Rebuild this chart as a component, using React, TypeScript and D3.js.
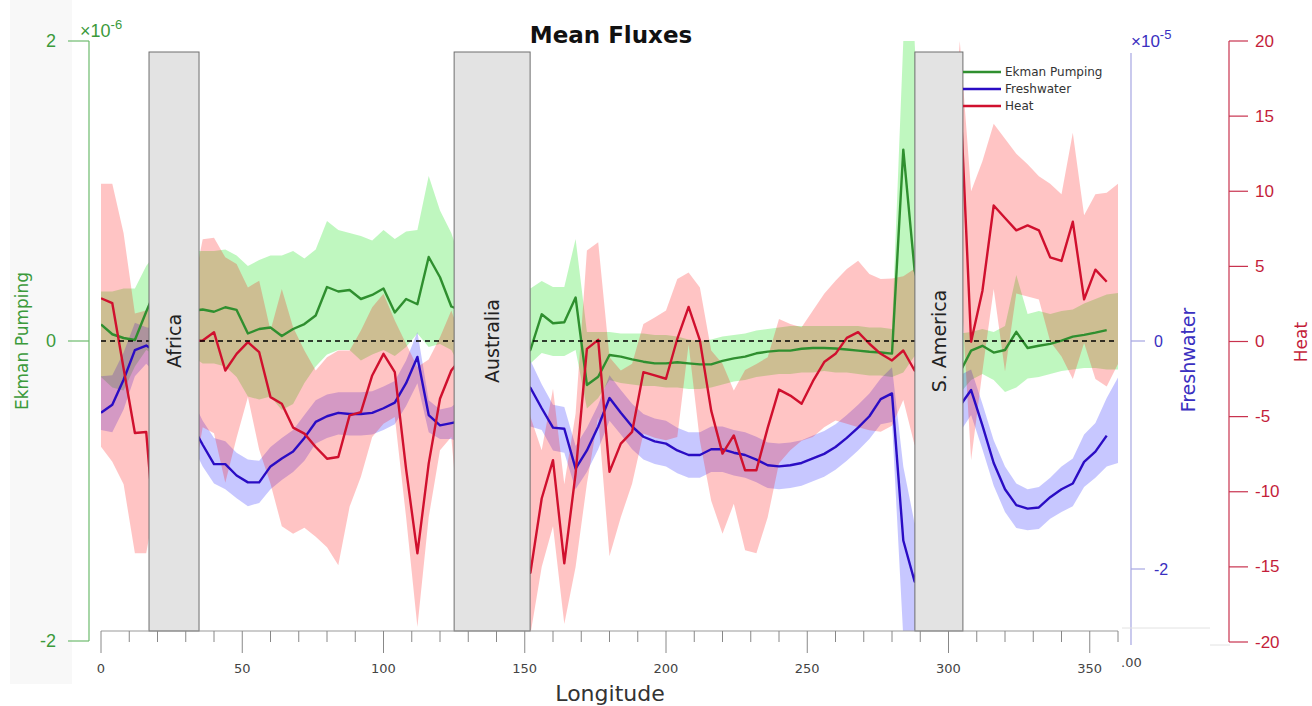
import React from "react";
import * as d3 from "d3";

// Longitude grid (degrees east), 4-degree spacing
const lon: number[] = d3.range(0, 361, 4);

// Ekman pumping (x1e-6), mean and spread
const ekman: (number | null)[] = [
  0.11, 0.045, 0.02, 0.007, 0.195, 0.37, 0.3, 0.25, 0.2, 0.21,
  0.195, 0.225, 0.207, 0.05, 0.08, 0.09, 0.033, 0.08, 0.113, 0.17,
  0.36, 0.33, 0.34, 0.28, 0.307, 0.35, 0.19, 0.28, 0.245, 0.56,
  0.425, 0.23, 0.2, 0.1, 0.05, 0.0, -0.05, -0.08, -0.06, 0.178,
  0.118, 0.125, 0.29, -0.293, -0.238, -0.093, -0.104, -0.122, -0.138, -0.149,
  -0.149, -0.142, -0.149, -0.156, -0.156, -0.133, -0.116, -0.104, -0.082, -0.071,
  -0.064, -0.064, -0.052, -0.047, -0.047, -0.05, -0.057, -0.064, -0.072, -0.077,
  -0.084, 1.276, 0.47, 0.2, 0.0, -0.1, -0.21, -0.064, -0.032, -0.077,
  -0.06, 0.061, -0.047, -0.032, -0.019, 0.003, 0.029, 0.041, 0.056, 0.073,
  null,
];
const ekmanHi: number[] = [
  0.33, 0.33, 0.35, 0.35, 0.5, 0.6, 0.6, 0.6, 0.6, 0.6,
  0.6, 0.61, 0.57, 0.5, 0.54, 0.57, 0.57, 0.6, 0.55, 0.61,
  0.8, 0.74, 0.72, 0.7, 0.67, 0.74, 0.68, 0.73, 0.74, 1.1,
  0.87, 0.72, 0.5, 0.5, 0.5, 0.5, 0.5, 0.5, 0.35, 0.4,
  0.36, 0.36, 0.68, 0.06, 0.06, 0.06, 0.05, 0.05, 0.05, 0.04,
  0.04, 0.03, 0.01, 0.0, 0.01, 0.03, 0.04, 0.05, 0.07, 0.08,
  0.09, 0.1, 0.1, 0.1, 0.1, 0.1, 0.1, 0.1, 0.09, 0.09,
  0.08, 2.0, 2.0, 0.5, 0.5, 0.5, 0.05, 0.06, 0.08, 0.06,
  0.1, 0.44, 0.18, 0.2, 0.18, 0.2, 0.21, 0.25, 0.28, 0.31,
  0.32,
];
const ekmanLo: number[] = [
  -0.24, -0.31, -0.33, -0.17, -0.06, -0.1, -0.1, -0.1, -0.1, -0.15,
  -0.15, -0.17, -0.24, -0.37, -0.39, -0.37, -0.46, -0.42, -0.28, -0.17,
  -0.09, -0.06, -0.06, -0.13, -0.09, -0.06, -0.1, -0.04, 0.05, -0.04,
  -0.02, -0.06, -0.2, -0.2, -0.2, -0.2, -0.2, -0.2, -0.15, -0.08,
  -0.1, -0.1, -0.06, -0.45, -0.38, -0.26, -0.28, -0.29, -0.3, -0.3,
  -0.31, -0.31, -0.32, -0.32, -0.31, -0.29, -0.27, -0.26, -0.24, -0.23,
  -0.22, -0.22, -0.21, -0.21, -0.2, -0.21, -0.21, -0.22, -0.23, -0.23,
  -0.24, -0.21, -0.1, -0.3, -0.3, -0.3, -0.35, -0.26, -0.22, -0.26,
  -0.34, -0.31, -0.25, -0.24, -0.22, -0.2, -0.19, -0.18, -0.18, -0.19,
  -0.19,
];

// Freshwater flux (x1e-5), mean and spread
const fresh: (number | null)[] = [
  -0.63, -0.56, -0.34, -0.08, -0.04, -0.1, -0.3, -0.5, -0.73, -0.91,
  -1.08, -1.08, -1.18, -1.24, -1.24, -1.1, -1.03, -0.97, -0.85, -0.71,
  -0.66, -0.63, -0.64, -0.64, -0.63, -0.59, -0.54, -0.37, -0.14, -0.65,
  -0.74, -0.72, -0.7, -0.65, -0.6, -0.55, -0.5, -0.42, -0.41, -0.59,
  -0.76, -0.77, -1.12, -0.96, -0.75, -0.5, -0.63, -0.75, -0.84, -0.88,
  -0.9, -0.96, -1.0, -1.0, -0.95, -0.95, -0.98, -1.0, -1.04, -1.09,
  -1.1, -1.09, -1.07, -1.03, -0.99, -0.93, -0.85, -0.76, -0.66, -0.51,
  -0.46, -1.75, -2.11, -1.5, -1.0, -0.7, -0.57, -0.43, -0.74, -1.07,
  -1.3, -1.44, -1.47, -1.46, -1.37, -1.3, -1.25, -1.06, -0.97, -0.83,
  null,
];
const freshHi: number[] = [
  -0.31, -0.3, -0.1, 0.16, 0.12, 0.1, -0.1, -0.3, -0.5, -0.7,
  -0.85, -0.88, -0.98, -1.04, -1.05, -0.93, -0.85, -0.78, -0.65, -0.52,
  -0.47, -0.45, -0.45, -0.45, -0.44, -0.4, -0.35, -0.17, 0.08, -0.52,
  -0.6, -0.58, -0.5, -0.45, -0.4, -0.35, -0.3, -0.2, -0.17, -0.38,
  -0.56, -0.58, -0.92, -0.76, -0.56, -0.3, -0.43, -0.55, -0.64, -0.68,
  -0.7, -0.76, -0.8, -0.8, -0.75, -0.75, -0.78, -0.8, -0.84, -0.89,
  -0.9, -0.89, -0.87, -0.83, -0.79, -0.73, -0.65, -0.56, -0.46, -0.33,
  -0.23, -1.1, -1.6, -1.2, -0.8, -0.5, -0.3, -0.25, -0.55, -0.87,
  -1.1, -1.25, -1.3, -1.28, -1.2, -1.1, -1.03, -0.82, -0.72, -0.5,
  -0.32,
];
const freshLo: number[] = [
  -0.78, -0.8, -0.6, -0.31, -0.2, -0.3, -0.5, -0.7, -0.9, -1.1,
  -1.25, -1.3, -1.38, -1.45, -1.42, -1.3, -1.22, -1.15, -1.05, -0.9,
  -0.85, -0.82, -0.83, -0.83, -0.82, -0.78, -0.73, -0.57, -0.37, -0.8,
  -0.86, -0.86, -0.9, -0.85, -0.8, -0.75, -0.7, -0.7, -0.75, -0.78,
  -0.96, -0.98, -1.3, -1.15, -0.95, -0.7, -0.82, -0.95, -1.04, -1.08,
  -1.1, -1.16, -1.2, -1.2, -1.15, -1.15, -1.18, -1.2, -1.24, -1.29,
  -1.3, -1.29, -1.27, -1.23, -1.19, -1.13, -1.05, -0.96, -0.86, -0.73,
  -0.71, -2.6, -2.8, -2.0, -1.3, -1.0, -0.8, -0.65, -0.95, -1.27,
  -1.5, -1.64, -1.66, -1.65, -1.56, -1.5, -1.45, -1.28, -1.2, -1.1,
  -1.07,
];

// Heat flux (W m^-2), mean and spread
const heat: (number | null)[] = [
  2.88, 2.55, -1.8, -6.09, -6.02, -15, -10, -5, 0, 0.07,
  0.62, -1.93, -0.82, -0.04, -0.71, -3.7, -4.14, -5.73, -6.13, -7.02,
  -7.8, -7.69, -4.92, -4.7, -2.26, -0.82, -2.04, -8.5, -14.1, -8.13,
  -3.81, -1.93, -1, -3, -5, -8, -10, -13, -15.4, -10.45,
  -7.9, -14.77, -8.79, -0.49, 0.11, -8.68, -6.8, -6.02, -2.04, -2.26,
  -2.48, 0.18, 2.3, 0.07, -4.6, -7.46, -6.25, -8.57, -8.57, -5.75,
  -3.2, -3.6, -4.14, -2.64, -1.37, -0.82, 0.24, 0.62, -0.15, -0.82,
  -1.26, -0.6, -1.93, 2, 6, 12, 17, -0.01, 3.36, 9.05,
  8.22, 7.4, 7.73, 7.4, 5.6, 5.36, 7.97, 2.8, 4.78, 3.98,
  null,
];
const heatHi: number[] = [
  10.5, 10.5, 7.2, 1.86, 2.06, 3, 3, 3, 3, 6.8,
  6.9, 5.6, 5.16, 3.6, 4.05, 0.73, 3.5, 0.95, -0.6, -1.93,
  -1.04, -0.6, -0.6, 0.73, 2.28, 3.17, 1.4, -0.15, -1.7, -1.2,
  0.29, 2.06, 0, 0, 0, 0, 0, 0, -5, -7.24,
  -3.15, -9.5, -4.8, 6.05, 6.6, -1.04, -1.93, -1.48, 1.17, 1.6,
  2.06, 4.16, 4.6, 3.6, -0.6, -1.48, -3.26, -1.9, -1.5, -1.04,
  1.5, 1.17, 0.95, 2.06, 3.17, 4.05, 4.83, 5.38, 4.5, 4.16,
  4.2, 4.35, 4.85, 10, 10, 10, 20, 10, 12, 14.5,
  13.5, 12.5, 11.8, 11, 10.5, 9.8, 13.9, 8.4, 9.8, 9.9,
  10.5,
];
const heatLo: number[] = [
  -7, -8, -9.5, -14.1, -14.1, -10, -10, -10, -10, -5.7,
  -6.1, -9.4, -6.4, -3.7, -7.2, -9.46, -12.3, -12.8, -12.4, -13,
  -13.7, -14.9, -11, -9, -6.36, -5.47, -5.03, -11.7, -19, -11.7,
  -7.24, -6.36, -15, -15, -15, -15, -15, -15, -19.5, -15,
  -12.3, -18.8, -15, -9.46, -5.03, -14.3, -11.7, -9.46, -6.13, -6.4,
  -6.58, -6.36, -0.2, -6.6, -10.6, -12.8, -10.8, -13.9, -14.1, -11.7,
  -8.1, -7.24, -6.6, -6.36, -5.7, -5.25, -5.47, -5.7, -5.9, -6.0,
  -5.6, -3.9, -6.9, -5, -5, -5, 5, -7.9, -2, 3.5,
  -2, 3.2, 3.0, 2.8, 0, -1, -2.5, -0.1, -2.5, -3,
  -1.5,
];

// Land masses that interrupt the zonal section
const landNames = ["Africa", "Australia", "S. America"];
const landWest = [17, 125, 288.1];
const landEast = [34.7, 151.9, 305.1];

// Tick values
const lonTicks = d3.range(0, 361, 10);
const lonLabels = [0, 50, 100, 150, 200, 250, 300, 350];
const ekmanTicks = [-2, 0, 2];
const freshTicks = [-2, 0];
const heatTicks = [-20, -15, -10, -5, 0, 5, 10, 15, 20];

const legendItems = ["Ekman Pumping", "Freshwater", "Heat"];

const GREEN = "#2f8f2f";
const BLUE = "#2a0cc4";
const RED = "#d0102e";

export default function App() {
  const W = 1312;
  const H = 706;
  const x = d3.scaleLinear().domain([0, 360]).range([101, 1118]);
  const yE = d3.scaleLinear().domain([-2, 2]).range([641, 41]);
  const yF = d3.scaleLinear().domain([-2, 0]).range([569, 341]);
  const yH = d3.scaleLinear().domain([-20, 20]).range([642, 41]);

  const band = (hi: number[], lo: number[], y: d3.ScaleLinear<number, number>) =>
    d3
      .area<number>()
      .x((_, i) => x(lon[i]))
      .y0((_, i) => y(lo[i]))
      .y1((_, i) => y(hi[i]))(lon) || "";

  const line = (vals: (number | null)[], y: d3.ScaleLinear<number, number>) =>
    d3
      .line<number | null>()
      .defined((d) => d !== null)
      .x((_, i) => x(lon[i]))
      .y((d) => y(d as number))(vals) || "";

  const sans = "'DejaVu Sans', sans-serif";
  const lib = "'Liberation Sans', Arial, sans-serif";

  return (
    <svg
      width={W}
      height={H}
      style={{ position: "absolute", left: 0, top: 0, background: "#fff" }}
    >
      <defs>
        <clipPath id="plotClip">
          <rect x={101} y={41} width={1017} height={590} />
        </clipPath>
      </defs>
      <rect x={0} y={0} width={W} height={H} fill="#fff" />
      <rect x={10} y={0} width={62} height={684} fill="#f8f8f8" />

      {/* spread bands and mean lines */}
      <g clipPath="url(#plotClip)">
        <path d={band(ekmanHi, ekmanLo, yE)} fill="rgb(0,225,0)" fillOpacity={0.25} />
        <path d={band(freshHi, freshLo, yF)} fill="rgb(0,0,255)" fillOpacity={0.22} />
        <path d={band(heatHi, heatLo, yH)} fill="rgb(255,0,0)" fillOpacity={0.23} />
        <path d={line(ekman, yE)} fill="none" stroke={GREEN} strokeWidth={2.4} strokeLinejoin="round" />
        <path d={line(fresh, yF)} fill="none" stroke={BLUE} strokeWidth={2.4} strokeLinejoin="round" />
        <path d={line(heat, yH)} fill="none" stroke={RED} strokeWidth={2.4} strokeLinejoin="round" />
      </g>

      {/* zero reference */}
      <line x1={x(0)} x2={x(360)} y1={yE(0)} y2={yE(0)} stroke="#000" strokeWidth={1.3} strokeDasharray="5,4" />

      {/* land masks */}
      {landNames.map((name, i) => {
        const x0 = x(landWest[i]);
        const x1 = x(landEast[i]);
        const cx = (x0 + x1) / 2;
        return (
          <g key={name}>
            <rect x={x0} y={52} width={x1 - x0} height={631 - 52} fill="#e3e3e3" stroke="#6e6e6e" strokeWidth={1} />
            <text
              x={cx}
              y={341}
              transform={`rotate(-90 ${cx} 341)`}
              textAnchor="middle"
              dominantBaseline="central"
              fontFamily={sans}
              fontSize={19}
              fill="#222"
            >
              {name}
            </text>
          </g>
        );
      })}

      {/* longitude axis */}
      <line x1={x(0)} x2={x(360)} y1={631} y2={631} stroke="#999" strokeWidth={1} />
      {lonTicks.map((t) => (
        <line key={t} x1={x(t)} x2={x(t)} y1={631} y2={t % 50 === 0 ? 653 : 642} stroke="#888" strokeWidth={1} />
      ))}
      {lonLabels.map((t) => (
        <text key={t} x={x(t)} y={673} textAnchor="middle" fontFamily={sans} fontSize={13} fill="#444">
          {t}
        </text>
      ))}
      <text x={610} y={701} textAnchor="middle" fontFamily={sans} fontSize={22} fill="#333">
        Longitude
      </text>

      {/* Ekman axis (left) */}
      <line x1={89} x2={89} y1={yE(2)} y2={yE(-2)} stroke="#6dbb6d" strokeWidth={1.2} />
      {ekmanTicks.map((t) => (
        <g key={t}>
          <line x1={68} x2={89} y1={yE(t)} y2={yE(t)} stroke="#6dbb6d" strokeWidth={1.2} />
          <text x={56} y={yE(t)} textAnchor="end" dominantBaseline="central" fontFamily={lib} fontSize={18} fill="#3b9a3b">
            {t}
          </text>
        </g>
      ))}
      <text x={80} y={37} fontFamily={lib} fontSize={18} fill="#3b9a3b">
        ×10
        <tspan dy={-8} fontSize={13}>-6</tspan>
      </text>
      <text
        x={22}
        y={341}
        transform="rotate(-90 22 341)"
        textAnchor="middle"
        dominantBaseline="central"
        fontFamily={sans}
        fontSize={17}
        fill="#3b9a3b"
      >
        Ekman Pumping
      </text>

      {/* Freshwater axis (right, inner) */}
      <line x1={1131} x2={1131} y1={53} y2={645} stroke="#a6a6e2" strokeWidth={1.2} />
      {freshTicks.map((t) => (
        <g key={t}>
          <line x1={1131} x2={1145} y1={yF(t)} y2={yF(t)} stroke="#a6a6e2" strokeWidth={1.2} />
          <text x={1154} y={yF(t)} dominantBaseline="central" fontFamily={lib} fontSize={16} fill="#3a2fc0">
            {t}
          </text>
        </g>
      ))}
      <text x={1131} y={47} fontFamily={lib} fontSize={17} fill="#3a2fc0">
        ×10
        <tspan dy={-8} fontSize={13}>-5</tspan>
      </text>
      <text
        x={1188}
        y={360}
        transform="rotate(-90 1188 360)"
        textAnchor="middle"
        dominantBaseline="central"
        fontFamily={sans}
        fontSize={19}
        fill="#3a2fc0"
      >
        Freshwater
      </text>
      <line x1={1122} x2={1210} y1={628} y2={628} stroke="#e2e2e2" strokeWidth={1} />
      <line x1={1210} x2={1230} y1={645} y2={645} stroke="#e2e2e2" strokeWidth={1} />
      <text x={1121} y={667} fontFamily={sans} fontSize={13} fill="#444">
        .00
      </text>

      {/* Heat axis (right, outer) */}
      <line x1={1229} x2={1229} y1={yH(20)} y2={yH(-20)} stroke="#c8324e" strokeWidth={1.2} />
      {heatTicks.map((t) => (
        <g key={t}>
          <line x1={1229} x2={1248} y1={yH(t)} y2={yH(t)} stroke="#c8324e" strokeWidth={1.2} />
          <text x={1255} y={yH(t)} dominantBaseline="central" fontFamily={lib} fontSize={17} fill="#c41e3a">
            {t}
          </text>
        </g>
      ))}
      <text
        x={1301}
        y={342}
        transform="rotate(-90 1301 342)"
        textAnchor="middle"
        dominantBaseline="central"
        fontFamily={sans}
        fontSize={17}
        fill="#c41e3a"
      >
        Heat
      </text>

      {/* title */}
      <text x={611} y={43} textAnchor="middle" fontFamily={sans} fontWeight="bold" fontSize={23} fill="#111">
        Mean Fluxes
      </text>

      {/* legend */}
      {legendItems.map((name, i) => {
        const ly = 72 + i * 17;
        const c = [GREEN, BLUE, RED][i];
        return (
          <g key={name}>
            <line x1={963} x2={1001} y1={ly} y2={ly} stroke={c} strokeWidth={2.3} />
            <text x={1005} y={ly} dominantBaseline="central" fontFamily={sans} fontSize={12} fill="#333">
              {name}
            </text>
          </g>
        );
      })}
    </svg>
  );
}
